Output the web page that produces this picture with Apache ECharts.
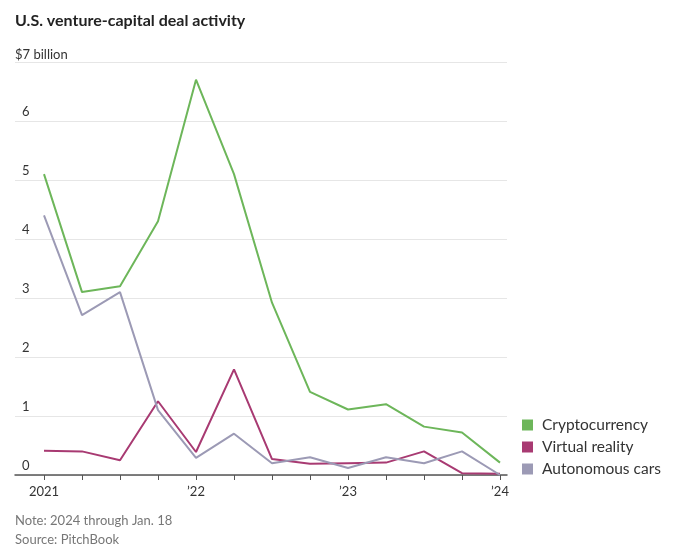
<!DOCTYPE html>
<html>
<head>
<meta charset="UTF-8">
<title>U.S. venture-capital deal activity</title>
<script src="https://cdn.jsdelivr.net/npm/echarts@6/dist/echarts.min.js"></script>
<style>
  html, body { margin: 0; padding: 0; background: #fff; }
  #chart { width: 680px; height: 554px; }
</style>
</head>
<body>
<div id="chart"></div>
<script>
// quarters, Q1 2021 .. Q1 2024
const quarters = ["2021", "Q2 21", "Q3 21", "Q4 21", "’22", "Q2 22", "Q3 22", "Q4 22",
  "’23", "Q2 23", "Q3 23", "Q4 23", "’24"];
const crypto = [5.1, 3.1, 3.2, 4.3, 6.7, 5.1, 2.92, 1.41, 1.11, 1.2, 0.82, 0.72, 0.21];
const virtualReality = [0.41, 0.4, 0.25, 1.25, 0.39, 1.79, 0.27, 0.19, 0.2, 0.21, 0.4, 0.03, 0.02];
const autonomousCars = [4.4, 2.71, 3.1, 1.1, 0.29, 0.7, 0.2, 0.3, 0.12, 0.3, 0.2, 0.4, 0.0];
const yTicks = [0, 1, 2, 3, 4, 5, 6, 7];

const font = "Lato";
const chart = echarts.init(document.getElementById("chart"));

const option = {
  animation: false,
  textStyle: { fontFamily: font },
  title: [
    {
      text: "U.S. venture-capital deal activity",
      left: 15, top: 13, padding: 0,
      textStyle: { fontSize: 16, fontWeight: "bold", color: "#222", fontFamily: font },
    },
    {
      text: "Note: 2024 through Jan. 18\nSource: PitchBook",
      left: 15, top: 511, padding: 0,
      textStyle: { fontSize: 13, fontWeight: "normal", color: "#777", lineHeight: 19, fontFamily: font },
    },
  ],
  legend: {
    orient: "vertical",
    left: 522, top: 417, padding: 0,
    icon: "rect",
    itemWidth: 11, itemHeight: 11,
    itemGap: 6,
    textStyle: { fontSize: 15.5, color: "#333", padding: [0, 0, 0, 4] },
    data: ["Cryptocurrency", "Virtual reality", "Autonomous cars"],
  },
  grid: [
    // background grid: gridlines, y labels, axis line
    { left: 15, right: 173, top: 62, bottom: 79 },
    // data grid: quarters
    { left: 44, right: 180, top: 62, bottom: 79 },
  ],
  xAxis: [
    {
      gridIndex: 0, type: "value", min: 0, max: 1,
      axisLine: { show: true, lineStyle: { color: "#555", width: 1.5 } },
      axisTick: { show: false }, axisLabel: { show: false }, splitLine: { show: false },
    },
    {
      gridIndex: 1, type: "category", data: quarters, boundaryGap: false,
      axisLine: { show: false },
      axisTick: { show: true, interval: 0, length: 5, lineStyle: { color: "#555" } },
      axisLabel: { interval: 3, fontSize: 13, color: "#333", margin: 10 },
      splitLine: { show: false },
    },
  ],
  yAxis: [
    {
      gridIndex: 0, type: "value", min: 0, max: 7, interval: 1,
      name: "$7 billion",
      nameLocation: "end",
      nameGap: 1,
      nameTextStyle: { fontSize: 13, color: "#333", align: "left", verticalAlign: "bottom" },
      axisLine: { show: false }, axisTick: { show: false },
      axisLabel: {
        inside: true, margin: 7, fontSize: 13, color: "#333",
        verticalAlign: "bottom", padding: [0, 0, 3, 0],
        formatter: (v) => (v === yTicks[yTicks.length - 1] ? "" : String(v)),
      },
      splitLine: { lineStyle: { color: "#e6e6e6", width: 1 } },
    },
    {
      gridIndex: 1, type: "value", min: 0, max: 7, show: false,
    },
  ],
  series: [
    {
      name: "Cryptocurrency", type: "line", xAxisIndex: 1, yAxisIndex: 1,
      data: crypto, symbol: "none", color: "#6db65a",
      lineStyle: { width: 2 },
    },
    {
      name: "Virtual reality", type: "line", xAxisIndex: 1, yAxisIndex: 1,
      data: virtualReality, symbol: "none", color: "#a83a72",
      lineStyle: { width: 2 },
    },
    {
      name: "Autonomous cars", type: "line", xAxisIndex: 1, yAxisIndex: 1,
      data: autonomousCars, symbol: "none", color: "#9c9ab5",
      lineStyle: { width: 2 },
    },
  ],
};

chart.setOption(option);
</script>
</body>
</html>
